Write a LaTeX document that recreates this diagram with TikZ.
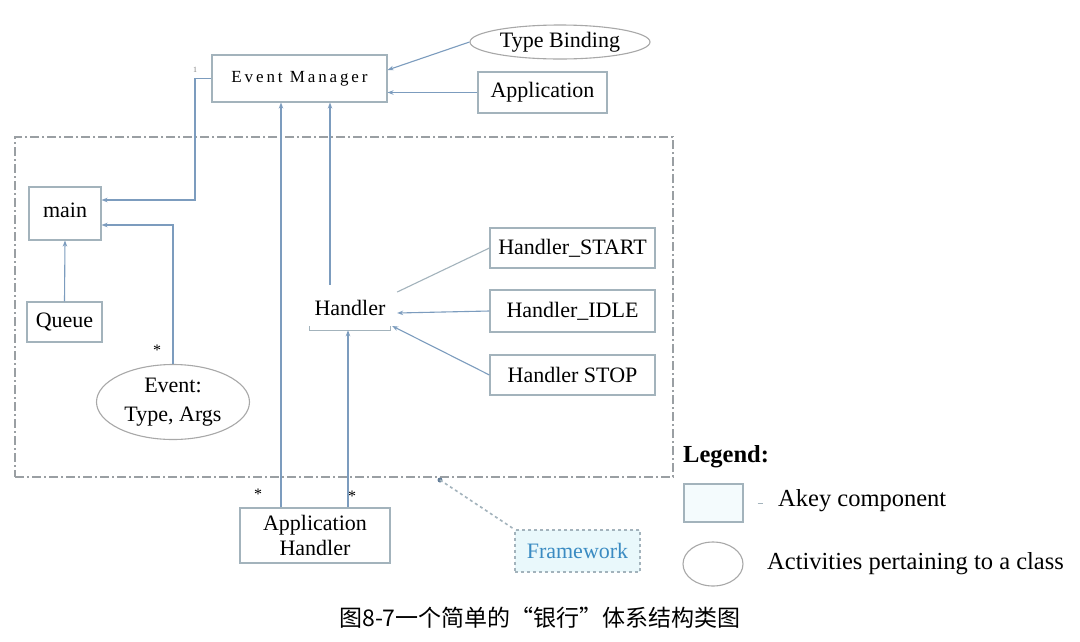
\documentclass[tikz,border=0pt]{standalone}
\usepackage{fontspec}
\setmainfont{Liberation Serif}
\newfontfamily\spacedfont[LetterSpace=17]{Liberation Serif}
\newfontfamily\cjkfont{Noto Sans CJK SC}
\usetikzlibrary{shapes.geometric,arrows.meta,calc}
\definecolor{boxc}{HTML}{A3B3BC}
\definecolor{arrc}{HTML}{7C9CBE}
\definecolor{framec}{HTML}{9A9FA3}
\definecolor{fwtext}{HTML}{3A8BC2}
\definecolor{fwfill}{HTML}{E9F8FB}
\definecolor{ellc}{HTML}{A8A8A8}
\tikzset{
  comp/.style={draw=boxc, line width=1.1pt, rectangle, align=center, inner sep=0pt, font=\fontsize{22}{23}\selectfont},
  activ/.style={draw=ellc, line width=1.1pt, ellipse, align=center, inner sep=0pt, font=\fontsize{22}{23}\selectfont},
  conn/.style={draw=arrc, line width=1.1pt, -{Stealth[length=6pt,width=4.5pt]}},
  plainconn/.style={draw=boxc, line width=1.1pt},
  lbl/.style={font=\fontsize{22}{23}\selectfont, inner sep=0pt},
  leg/.style={font=\fontsize{24.5}{26}\selectfont, inner sep=0pt, anchor=west},
}
\begin{document}
\begin{tikzpicture}[x=1pt,y=-1pt]
\useasboundingbox (0,0) rectangle (1080,641);
\fill[white] (0,0) rectangle (1080,641);

% framework frame
\node[draw=framec, line width=1.1pt, dash pattern=on 9pt off 3pt on 2pt off 3pt, rectangle, inner sep=0pt,
      minimum width=658pt, minimum height=340pt] (frame) at (344,307) {};

% nodes
\node[comp, minimum width=175pt, minimum height=47pt, font=\spacedfont\fontsize{17}{18}\selectfont] (EM) at (299.5,78.5) {Event Manager};
\node[activ, minimum width=180pt, minimum height=34pt] (TB) at (560,42) {Type Binding};
\node[comp, minimum width=129pt, minimum height=41pt] (App) at (542.5,92.5) {Application};
\node[comp, minimum width=72pt, minimum height=53pt] (main) at (65,213.5) {\raisebox{6pt}{main}};
\node[comp, minimum width=75pt, minimum height=40pt] (Q) at (64.5,322) {Queue};
\node[activ, minimum width=153pt, minimum height=75pt, font=\fontsize{22}{29}\selectfont] (Ev) at (173,402) {Event:\\Type, Args};
\node[lbl, minimum width=80pt, minimum height=45pt] (H) at (350,307.5) {Handler};
\draw[plainconn] ([yshift=4pt]H.south west) -- (H.south west) -- (H.south east) -- ([yshift=4pt]H.south east);
\node[comp, minimum width=165pt, minimum height=40pt] (HS) at (572.5,248) {Handler\_START};
\node[comp, minimum width=165pt, minimum height=42pt] (HI) at (572.5,311) {Handler\_IDLE};
\node[comp, minimum width=165pt, minimum height=40pt] (HT) at (572.5,375) {Handler STOP};
\node[comp, minimum width=150pt, minimum height=55pt, font=\fontsize{22}{25}\selectfont] (AH) at (315,535.5) {Application\\Handler};
\node[draw=boxc, line width=1.6pt, dashed, fill=fwfill, rectangle, inner sep=0pt, minimum width=125pt, minimum height=42pt,
      text=fwtext, font=\fontsize{22}{23}\selectfont] (FW) at (577.5,551) {Framework};

% small labels
\node[inner sep=0pt, font=\fontsize{8}{8}\selectfont, text=gray] (one) at (195,70) {1};
\node[lbl, font=\fontsize{16}{16}\selectfont] (s1) at (157,350) {*};
\node[lbl, font=\fontsize{16}{16}\selectfont] (s2) at (258,494) {*};
\node[lbl, font=\fontsize{16}{16}\selectfont] (s3) at (352,496) {*};

% helper coordinates
\coordinate (x281) at (281,0);
\coordinate (x330) at (330,0);
\coordinate (x348) at (348,0);
\coordinate (x195) at (195,0);
\coordinate (dot) at (440,480);

% connectors
\draw[conn] (TB.west) -- ([yshift=8.5pt]EM.east);
\draw[conn] (App.west) -- (EM.east |- App.west);
\draw[conn] (AH.north -| x281) -- (EM.south -| x281);
\draw[conn] (H.north -| x330) -- (EM.south -| x330);
\draw[conn] (AH.north -| x348) -- (H.south -| x348);
\draw[conn] (EM.west) -- (EM.west -| x195) -- ([yshift=13.5pt]main.east -| x195) -- ([yshift=13.5pt]main.east);
\draw[conn] (Ev.north) |- ([yshift=-11.5pt]main.east);
\draw[conn] (Q.north) -- (main.south);
\draw[plainconn] (HS.west) -- ([xshift=7pt,yshift=15.5pt]H.east);
\draw[conn] (HI.west) -- ([xshift=7pt,yshift=-5.5pt]H.east);
\draw[conn] (HT.west) -- ([xshift=2pt,yshift=-18.5pt]H.east);
\fill[arrc!80!black] (dot) circle (2.5pt);
\draw[boxc, line width=1.6pt, dashed] (dot) -- (FW.north west);

% legend
\node[inner sep=0pt, anchor=west, font=\fontsize{24.5}{26}\selectfont\bfseries] (legt) at (683,457) {Legend:};
\node[draw=boxc, line width=1.1pt, fill=fwfill!50, rectangle, minimum width=59pt, minimum height=38pt, inner sep=0pt] (lbox) at (713.5,503) {};
\node[leg] (ltext1) at (778,501) {Akey component};
\draw[boxc, line width=1pt] ([xshift=14pt]lbox.east) -- ([xshift=19pt]lbox.east);
\node[draw=ellc, line width=1.1pt, ellipse, minimum width=60pt, minimum height=44pt, inner sep=0pt] (lell) at (713,564) {};
\node[leg] (ltext2) at (767,564) {Activities pertaining to a class};

% caption
\node[inner sep=0pt, font=\cjkfont\fontsize{23}{24}\selectfont] (cap) at (540,618) {图8-7一个简单的“银行”体系结构类图};
\end{tikzpicture}
\end{document}
